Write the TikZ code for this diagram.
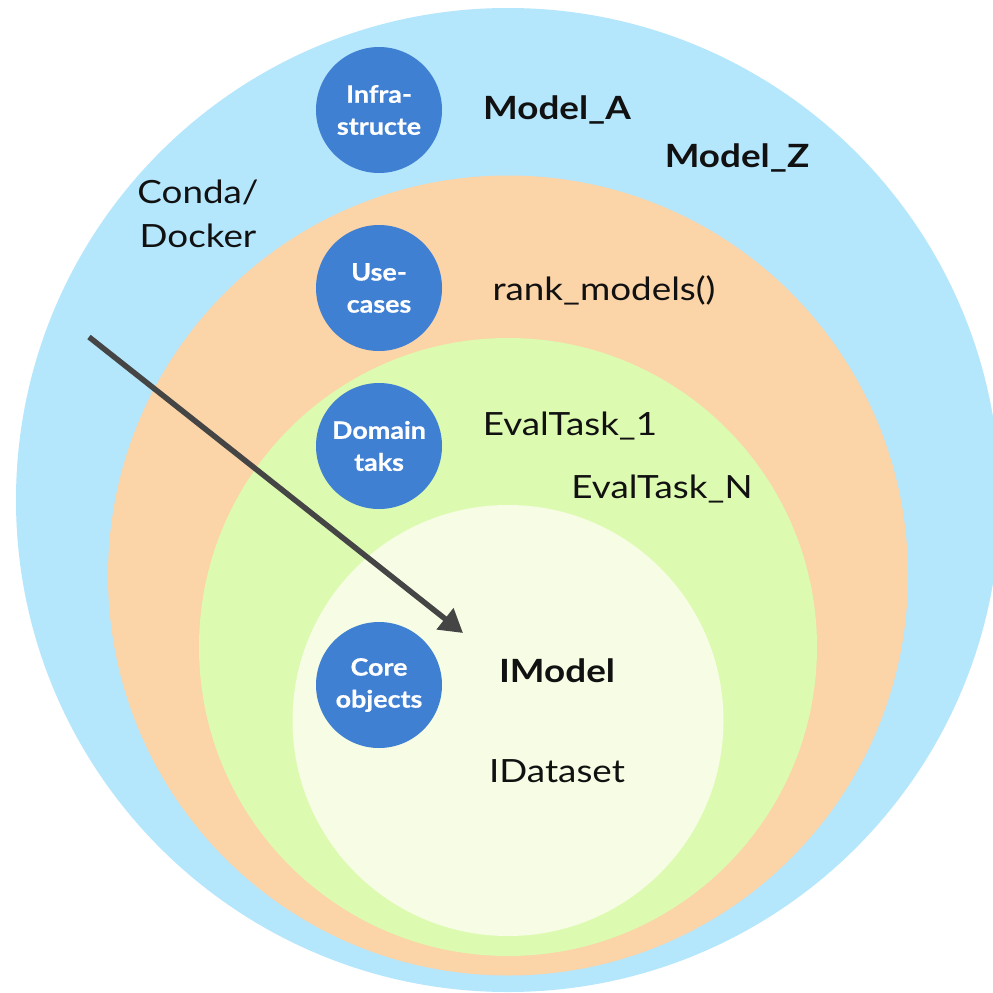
\documentclass[tikz,border=0pt]{standalone}
\usepackage{fontspec}
\setmainfont[FakeStretch=1.15]{Lato}
\newfontfamily\circfont[FakeStretch=1.12, FakeBold=0.6]{Lato Bold}
\usetikzlibrary{arrows.meta}
\definecolor{outerblue}{HTML}{B4E6FC}
\definecolor{peach}{HTML}{FBD4A7}
\definecolor{lgreen}{HTML}{DDFAB1}
\definecolor{cream}{HTML}{F6FDE4}
\definecolor{dotblue}{HTML}{4080D3}
\definecolor{arrowgray}{HTML}{454545}
\definecolor{ink}{HTML}{111111}
\tikzset{
  layer/.style={circle, fill=dotblue, draw=none, minimum size=126pt, inner sep=0pt,
    text=white, align=center, font=\fontsize{24}{32}\selectfont\circfont},
  lbl/.style={anchor=base, text=ink, inner sep=0pt, font=\fontsize{32}{44}\selectfont},
  blbl/.style={lbl, font=\fontsize{32}{44}\selectfont\bfseries},
  bigarrow/.style={draw=arrowgray, line width=5.5pt, -{Triangle[length=23pt,width=26pt]}}
}
\begin{document}
\begin{tikzpicture}[x=1pt,y=-1pt]
\useasboundingbox (0,0) rectangle (993,993);
\clip (0,0) rectangle (993,993);
\fill[white] (0,0) rectangle (993,993);
% rings
\fill[outerblue] (508,500) circle (492);
\fill[peach] (508,575.5) circle (400);
\fill[lgreen] (508,647) circle (309);
\fill[cream] (508,720.5) circle (215.5);
% arrow
\coordinate (a0) at (89,337);
\coordinate (a1) at (463,633);
\draw[bigarrow] (a0) -- (a1);
% layer circles
\node[layer] (infra) at (379,110) {Infra-\\structe};
\node[layer] (use) at (379,288) {Use-\\cases};
\node[layer] (dom) at (379,446) {Domain\\taks};
\node[layer] (core) at (379,685) {Core\\objects};
% labels
\node[blbl] (ma) at (557,119) {Model\_A};
\node[blbl] (mz) at (737,167) {Model\_Z};
\node[lbl, align=center] (conda) at (198,247) {Conda/\\Docker};
\node[lbl] (rank) at (604,300) {rank\_models()};
\node[lbl] (e1) at (570,435) {EvalTask\_1};
\node[lbl] (en) at (662,498) {EvalTask\_N};
\node[blbl] (im) at (557,682) {IModel};
\node[lbl] (ids) at (557,782) {IDataset};
\end{tikzpicture}
\end{document}
